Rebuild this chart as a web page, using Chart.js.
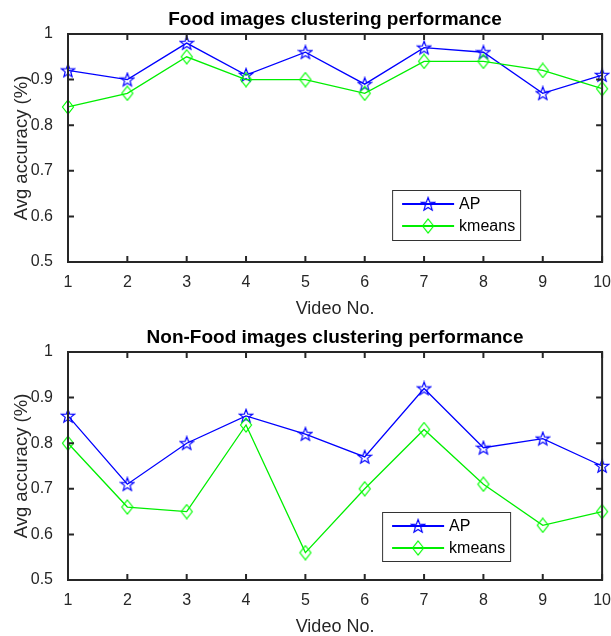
<!DOCTYPE html>
<html>
<head>
<meta charset="utf-8">
<script src="https://cdn.jsdelivr.net/npm/chart.js@4.4.1/dist/chart.umd.min.js"></script>
<style>
  html, body { margin: 0; padding: 0; background: #fff; overflow: hidden; }
  #wrap { position: relative; width: 611px; height: 636px; overflow: hidden; }
  canvas { position: absolute; left: 0; }
</style>
</head>
<body>
<div id="wrap">
  <canvas id="food" width="614" height="318" style="top:0px"></canvas>
  <canvas id="nonfood" width="614" height="318" style="top:318px"></canvas>
</div>
<script>
// video numbers on x axis
var videos = ['1', '2', '3', '4', '5', '6', '7', '8', '9', '10'];
var yTicks = [0.5, 0.6, 0.7, 0.8, 0.9, 1];

var foodAP     = [0.92, 0.90, 0.98, 0.91, 0.96, 0.89, 0.97, 0.96, 0.87, 0.91];
var foodKmeans = [0.84, 0.87, 0.95, 0.90, 0.90, 0.87, 0.94, 0.94, 0.92, 0.88];

var nonFoodAP     = [0.86, 0.71, 0.80, 0.86, 0.82, 0.77, 0.92, 0.79, 0.81, 0.75];
var nonFoodKmeans = [0.80, 0.66, 0.65, 0.84, 0.56, 0.70, 0.83, 0.71, 0.62, 0.65];

var AXIS = '#262626';
var FONT = 'Liberation Sans, Arial, Helvetica, sans-serif';

// MATLAB-ish markers
function pentagram(color) {
    var c = document.createElement('canvas');
    c.width = 16; c.height = 16;
    var g = c.getContext('2d');
    g.strokeStyle = color; g.lineWidth = 1.2;
    g.beginPath();
    for (var i = 0; i < 10; i++) {
        var r = (i % 2 == 0) ? 7 : 2.9;
        var a = -Math.PI / 2 + i * Math.PI / 5;
        var px = 8 + r * Math.cos(a), py = 8.5 + r * Math.sin(a);
        if (i == 0) g.moveTo(px, py); else g.lineTo(px, py);
    }
    g.closePath();
    g.stroke();
    return c;
}
function diamond(color) {
    var c = document.createElement('canvas');
    c.width = 14; c.height = 16;
    var g = c.getContext('2d');
    g.strokeStyle = color; g.lineWidth = 1.2;
    g.beginPath();
    g.moveTo(7, 1); g.lineTo(12.5, 8); g.lineTo(7, 15); g.lineTo(1.5, 8);
    g.closePath();
    g.stroke();
    return c;
}
var starMark = pentagram('#0000ff');
var diaMark = diamond('#00ff00');

// box, inward ticks, title and legend like a matlab axes
var matlabAxes = {
    id: 'matlabAxes',
    afterDatasetsDraw(chart, args, opts) {
        var ctx = chart.ctx, a = chart.chartArea;
        var xs = chart.scales.x, ys = chart.scales.y;
        ctx.save();
        ctx.strokeStyle = AXIS;
        ctx.lineWidth = 2;
        ctx.strokeRect(a.left, a.top, a.right - a.left, a.bottom - a.top);
        ctx.beginPath();
        for (var i = 0; i < videos.length; i++) {
            var px = xs.getPixelForValue(i);
            ctx.moveTo(px, a.bottom); ctx.lineTo(px, a.bottom - 6);
            ctx.moveTo(px, a.top); ctx.lineTo(px, a.top + 6);
        }
        yTicks.forEach(function (v) {
            var py = ys.getPixelForValue(v);
            ctx.moveTo(a.left, py); ctx.lineTo(a.left + 6, py);
            ctx.moveTo(a.right, py); ctx.lineTo(a.right - 6, py);
        });
        ctx.stroke();

        // title centred over the axes, not the canvas
        ctx.fillStyle = '#000';
        ctx.font = 'bold 19px ' + FONT;
        ctx.textAlign = 'center';
        ctx.textBaseline = 'alphabetic';
        ctx.fillText(opts.title, (a.left + a.right) / 2, a.top - 9);

        // legend box
        var bx = a.right - opts.dx, by = a.bottom - opts.dy, bw = 128, bh = opts.h;
        ctx.fillStyle = '#fff';
        ctx.fillRect(bx, by, bw, bh);
        ctx.strokeStyle = '#333';
        ctx.lineWidth = 1;
        ctx.strokeRect(bx + 0.5, by + 0.5, bw, bh);
        ctx.font = '16px ' + FONT;
        ctx.textBaseline = 'middle';
        ctx.textAlign = 'left';
        chart.data.datasets.forEach(function (ds, k) {
            var ry = by + 14 + k * 22;
            ctx.strokeStyle = ds.borderColor;
            ctx.lineWidth = 2;
            ctx.beginPath();
            ctx.moveTo(bx + 10, ry); ctx.lineTo(bx + 62, ry);
            ctx.stroke();
            var m = ds.pointStyle;
            ctx.drawImage(m, bx + 36 - m.width / 2, ry - m.height / 2);
            ctx.fillStyle = '#000';
            ctx.fillText(ds.label, bx + 67, ry + 1);
        });
        ctx.restore();
    }
};

function makeConfig(title, ap, km, legendPos) {
    legendPos.title = title;
    return {
        type: 'line',
        data: {
            labels: videos,
            datasets: [
                { label: 'AP', data: ap, borderColor: '#0000ff', borderWidth: 1.3,
                  pointStyle: starMark, pointRadius: 7, order: 1, tension: 0, fill: false },
                { label: 'kmeans', data: km, borderColor: '#00ee00', borderWidth: 1.3,
                  pointStyle: diaMark, pointRadius: 7, order: 0, tension: 0, fill: false }
            ]
        },
        options: {
            responsive: false,
            animation: false,
            layout: { padding: { left: 0, right: 0, top: 34, bottom: 0 } },
            plugins: {
                legend: { display: false },
                tooltip: { enabled: false },
                title: { display: false },
                matlabAxes: legendPos
            },
            scales: {
                x: {
                    type: 'category', offset: false,
                    grid: { display: false }, border: { display: false },
                    ticks: { color: AXIS, padding: 3, maxRotation: 0, autoSkip: false,
                             font: { family: FONT, size: 16 } },
                    title: { display: true, text: 'Video No.', color: AXIS,
                             font: { family: FONT, size: 18, lineHeight: 1.2 },
                             padding: { top: 0, bottom: -2 } },
                    afterFit: function (s) { s.height = 56; }
                },
                y: {
                    min: 0.5, max: 1,
                    grid: { display: false }, border: { display: false },
                    afterBuildTicks: function (s) { s.ticks = yTicks.map(function (v) { return { value: v }; }); },
                    ticks: { color: AXIS, padding: 7, font: { family: FONT, size: 16 },
                             callback: function (v) { return String(+v.toFixed(1)); } },
                    title: { display: true, text: 'Avg accuracy (%)', color: AXIS,
                             font: { family: FONT, size: 18.5, lineHeight: 1.2 },
                             padding: { top: 11, bottom: 0 } },
                    afterFit: function (s) { s.width = 68; }
                }
            }
        },
        plugins: [matlabAxes]
    };
}

new Chart(document.getElementById('food').getContext('2d'),
    makeConfig('Food images clustering performance', foodAP, foodKmeans, { dx: 210, dy: 72, h: 50 }));
new Chart(document.getElementById('nonfood').getContext('2d'),
    makeConfig('Non-Food images clustering performance', nonFoodAP, nonFoodKmeans, { dx: 220, dy: 68, h: 49 }));
</script>
</body>
</html>
